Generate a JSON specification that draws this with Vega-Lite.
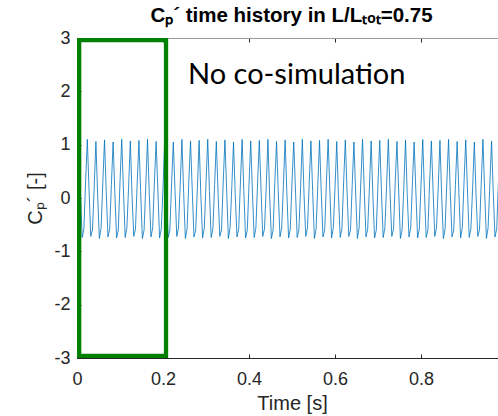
{
"$schema": "https://vega.github.io/schema/vega-lite/v6.json",
"width": 421, "height": 320,
"autosize": {"type": "none"},
"padding": {"left": 77, "top": 38, "right": 0, "bottom": 58},
"background": "white",
"config": {"view": {"stroke": null},
 "axis": {"grid": false, "labelFont": "Liberation Sans", "titleFont": "Liberation Sans", "labelColor": "#262626", "titleColor": "#262626", "domainColor": "#262626", "tickColor": "#262626", "labelFontSize": 18, "titleFontSize": 20, "titleFontWeight": "normal", "tickSize": -4}},
"title": {"text": "Cₚ´ time history in L/Lₜₒₜ=0.75", "font": "Liberation Sans", "fontWeight": "bold", "fontSize": 20.5, "color": "#000000", "baseline": "alphabetic", "offset": -13, "dx": 4, "anchor": "middle"},
"datasets": {
"sig": [
{"t":0,"v":-0.5},{"t":0.004,"v":1.08},{"t":0.008,"v":0.1},{"t":0.012,"v":-0.74},{"t":0.016,"v":-0.58},
{"t":0.02,"v":0.3},{"t":0.024,"v":1.1},{"t":0.028,"v":0.15},{"t":0.032,"v":-0.72},{"t":0.036,"v":-0.6},
{"t":0.04,"v":0.2},{"t":0.044,"v":1.06},{"t":0.048,"v":0.05},{"t":0.052,"v":-0.76},{"t":0.056,"v":-0.56},
{"t":0.06,"v":0.28},{"t":0.064,"v":1.09},{"t":0.068,"v":0.12},{"t":0.072,"v":-0.73},{"t":0.076,"v":-0.58},
{"t":0.08,"v":0.25},{"t":0.084,"v":1.05},{"t":0.088,"v":0.1},{"t":0.092,"v":-0.75},{"t":0.096,"v":-0.6},
{"t":0.1,"v":0.3},{"t":0.104,"v":1.1},{"t":0.108,"v":0.15},{"t":0.112,"v":-0.74},{"t":0.116,"v":-0.56},
{"t":0.12,"v":0.2},{"t":0.124,"v":1.07},{"t":0.128,"v":0.05},{"t":0.132,"v":-0.72},{"t":0.136,"v":-0.58},
{"t":0.14,"v":0.28},{"t":0.144,"v":1.08},{"t":0.148,"v":0.12},{"t":0.152,"v":-0.76},{"t":0.156,"v":-0.6},
{"t":0.16,"v":0.25},{"t":0.164,"v":1.1},{"t":0.168,"v":0.1},{"t":0.172,"v":-0.73},{"t":0.176,"v":-0.56},
{"t":0.18,"v":0.3},{"t":0.184,"v":1.06},{"t":0.188,"v":0.15},{"t":0.192,"v":-0.75},{"t":0.196,"v":-0.58},
{"t":0.2,"v":0.2},{"t":0.204,"v":1.09},{"t":0.208,"v":0.05},{"t":0.212,"v":-0.74},{"t":0.216,"v":-0.6},
{"t":0.22,"v":0.28},{"t":0.224,"v":1.05},{"t":0.228,"v":0.12},{"t":0.232,"v":-0.72},{"t":0.236,"v":-0.56},
{"t":0.24,"v":0.25},{"t":0.244,"v":1.1},{"t":0.248,"v":0.1},{"t":0.252,"v":-0.76},{"t":0.256,"v":-0.58},
{"t":0.26,"v":0.3},{"t":0.264,"v":1.07},{"t":0.268,"v":0.15},{"t":0.272,"v":-0.73},{"t":0.276,"v":-0.6},
{"t":0.28,"v":0.2},{"t":0.284,"v":1.08},{"t":0.288,"v":0.05},{"t":0.292,"v":-0.75},{"t":0.296,"v":-0.56},
{"t":0.3,"v":0.28},{"t":0.304,"v":1.1},{"t":0.308,"v":0.12},{"t":0.312,"v":-0.74},{"t":0.316,"v":-0.58},
{"t":0.32,"v":0.25},{"t":0.324,"v":1.06},{"t":0.328,"v":0.1},{"t":0.332,"v":-0.72},{"t":0.336,"v":-0.6},
{"t":0.34,"v":0.3},{"t":0.344,"v":1.09},{"t":0.348,"v":0.15},{"t":0.352,"v":-0.76},{"t":0.356,"v":-0.56},
{"t":0.36,"v":0.2},{"t":0.364,"v":1.05},{"t":0.368,"v":0.05},{"t":0.372,"v":-0.73},{"t":0.376,"v":-0.58},
{"t":0.38,"v":0.28},{"t":0.384,"v":1.1},{"t":0.388,"v":0.12},{"t":0.392,"v":-0.75},{"t":0.396,"v":-0.6},
{"t":0.4,"v":0.25},{"t":0.404,"v":1.07},{"t":0.408,"v":0.1},{"t":0.412,"v":-0.74},{"t":0.416,"v":-0.56},
{"t":0.42,"v":0.3},{"t":0.424,"v":1.08},{"t":0.428,"v":0.15},{"t":0.432,"v":-0.72},{"t":0.436,"v":-0.58},
{"t":0.44,"v":0.2},{"t":0.444,"v":1.1},{"t":0.448,"v":0.05},{"t":0.452,"v":-0.76},{"t":0.456,"v":-0.6},
{"t":0.46,"v":0.28},{"t":0.464,"v":1.06},{"t":0.468,"v":0.12},{"t":0.472,"v":-0.73},{"t":0.476,"v":-0.56},
{"t":0.48,"v":0.25},{"t":0.484,"v":1.09},{"t":0.488,"v":0.1},{"t":0.492,"v":-0.75},{"t":0.496,"v":-0.58},
{"t":0.5,"v":0.3},{"t":0.504,"v":1.05},{"t":0.508,"v":0.15},{"t":0.512,"v":-0.74},{"t":0.516,"v":-0.6},
{"t":0.52,"v":0.2},{"t":0.524,"v":1.1},{"t":0.528,"v":0.05},{"t":0.532,"v":-0.72},{"t":0.536,"v":-0.56},
{"t":0.54,"v":0.28},{"t":0.544,"v":1.07},{"t":0.548,"v":0.12},{"t":0.552,"v":-0.76},{"t":0.556,"v":-0.58},
{"t":0.56,"v":0.25},{"t":0.564,"v":1.08},{"t":0.568,"v":0.1},{"t":0.572,"v":-0.73},{"t":0.576,"v":-0.6},
{"t":0.58,"v":0.3},{"t":0.584,"v":1.1},{"t":0.588,"v":0.15},{"t":0.592,"v":-0.75},{"t":0.596,"v":-0.56},
{"t":0.6,"v":0.2},{"t":0.604,"v":1.06},{"t":0.608,"v":0.05},{"t":0.612,"v":-0.74},{"t":0.616,"v":-0.58},
{"t":0.62,"v":0.28},{"t":0.624,"v":1.09},{"t":0.628,"v":0.12},{"t":0.632,"v":-0.72},{"t":0.636,"v":-0.6},
{"t":0.64,"v":0.25},{"t":0.644,"v":1.05},{"t":0.648,"v":0.1},{"t":0.652,"v":-0.76},{"t":0.656,"v":-0.56},
{"t":0.66,"v":0.3},{"t":0.664,"v":1.1},{"t":0.668,"v":0.15},{"t":0.672,"v":-0.73},{"t":0.676,"v":-0.58},
{"t":0.68,"v":0.2},{"t":0.684,"v":1.07},{"t":0.688,"v":0.05},{"t":0.692,"v":-0.75},{"t":0.696,"v":-0.6},
{"t":0.7,"v":0.28},{"t":0.704,"v":1.08},{"t":0.708,"v":0.12},{"t":0.712,"v":-0.74},{"t":0.716,"v":-0.56},
{"t":0.72,"v":0.25},{"t":0.724,"v":1.1},{"t":0.728,"v":0.1},{"t":0.732,"v":-0.72},{"t":0.736,"v":-0.58},
{"t":0.74,"v":0.3},{"t":0.744,"v":1.06},{"t":0.748,"v":0.15},{"t":0.752,"v":-0.76},{"t":0.756,"v":-0.6},
{"t":0.76,"v":0.2},{"t":0.764,"v":1.09},{"t":0.768,"v":0.05},{"t":0.772,"v":-0.73},{"t":0.776,"v":-0.56},
{"t":0.78,"v":0.28},{"t":0.784,"v":1.05},{"t":0.788,"v":0.12},{"t":0.792,"v":-0.75},{"t":0.796,"v":-0.58},
{"t":0.8,"v":0.25},{"t":0.804,"v":1.1},{"t":0.808,"v":0.1},{"t":0.812,"v":-0.74},{"t":0.816,"v":-0.6},
{"t":0.82,"v":0.3},{"t":0.824,"v":1.07},{"t":0.828,"v":0.15},{"t":0.832,"v":-0.72},{"t":0.836,"v":-0.56},
{"t":0.84,"v":0.2},{"t":0.844,"v":1.08},{"t":0.848,"v":0.05},{"t":0.852,"v":-0.76},{"t":0.856,"v":-0.58},
{"t":0.86,"v":0.28},{"t":0.864,"v":1.1},{"t":0.868,"v":0.12},{"t":0.872,"v":-0.73},{"t":0.876,"v":-0.6},
{"t":0.88,"v":0.25},{"t":0.884,"v":1.06},{"t":0.888,"v":0.1},{"t":0.892,"v":-0.75},{"t":0.896,"v":-0.56},
{"t":0.9,"v":0.3},{"t":0.904,"v":1.09},{"t":0.908,"v":0.15},{"t":0.912,"v":-0.74},{"t":0.916,"v":-0.58},
{"t":0.92,"v":0.2},{"t":0.924,"v":1.05},{"t":0.928,"v":0.05},{"t":0.932,"v":-0.72},{"t":0.936,"v":-0.6},
{"t":0.94,"v":0.28},{"t":0.944,"v":1.1},{"t":0.948,"v":0.12},{"t":0.952,"v":-0.76},{"t":0.956,"v":-0.56},
{"t":0.96,"v":0.25},{"t":0.964,"v":1.07},{"t":0.968,"v":0.1},{"t":0.972,"v":-0.73},{"t":0.976,"v":-0.58},
{"t":0.98,"v":0.3}
],
"box": [{"x0": 0.005, "x1": 0.207, "y0": -2.96, "y1": 2.96}],
"note": [{"label": "No co-simulation", "x": 0.511, "y": 2.145}]
},
"layer": [
 {"data": {"name": "sig"},
  "mark": {"type": "line", "color": "#0072BD", "strokeWidth": 0.8, "clip": true},
  "encoding": {
   "x": {"field": "t", "type": "quantitative", "scale": {"domain": [0, 0.979], "nice": false, "zero": false},
         "axis": {"orient": "bottom", "values": [0, 0.2, 0.4, 0.6, 0.8], "labelExpr": "datum.value + ''", "title": "Time [s]", "labelPadding": 16, "titlePadding": 5, "titleX": 215, "labelFlush": false}},
   "y": {"field": "v", "type": "quantitative", "scale": {"domain": [-3, 3], "nice": false, "zero": false},
         "axis": {"values": [-3, -2, -1, 0, 1, 2, 3], "labelExpr": "datum.value + ''", "title": "Cₚ´ [-]", "labelPadding": 11, "titlePadding": 8, "labelFlush": false}}
  }},
 {"data": {"name": "box"},
  "mark": {"type": "rect", "fillOpacity": 0, "stroke": "#008000", "strokeWidth": 4.3},
  "encoding": {
   "x": {"field": "x0", "type": "quantitative", "axis": {"orient": "top", "labels": false, "title": null, "values": [0, 0.2, 0.4, 0.6, 0.8], "domainColor": "#9a9a9a", "minExtent": 0, "maxExtent": 0}},
   "x2": {"field": "x1"},
   "y": {"field": "y0", "type": "quantitative"},
   "y2": {"field": "y1"}
  }},
 {"data": {"name": "note"},
  "mark": {"type": "text", "font": "Lato", "fontSize": 29, "align": "center", "baseline": "alphabetic", "color": "#000000"},
  "encoding": {
   "x": {"field": "x", "type": "quantitative", "axis": null},
   "y": {"field": "y", "type": "quantitative"},
   "text": {"field": "label"}
  }}
],
"resolve": {"axis": {"x": "independent"}}
}
